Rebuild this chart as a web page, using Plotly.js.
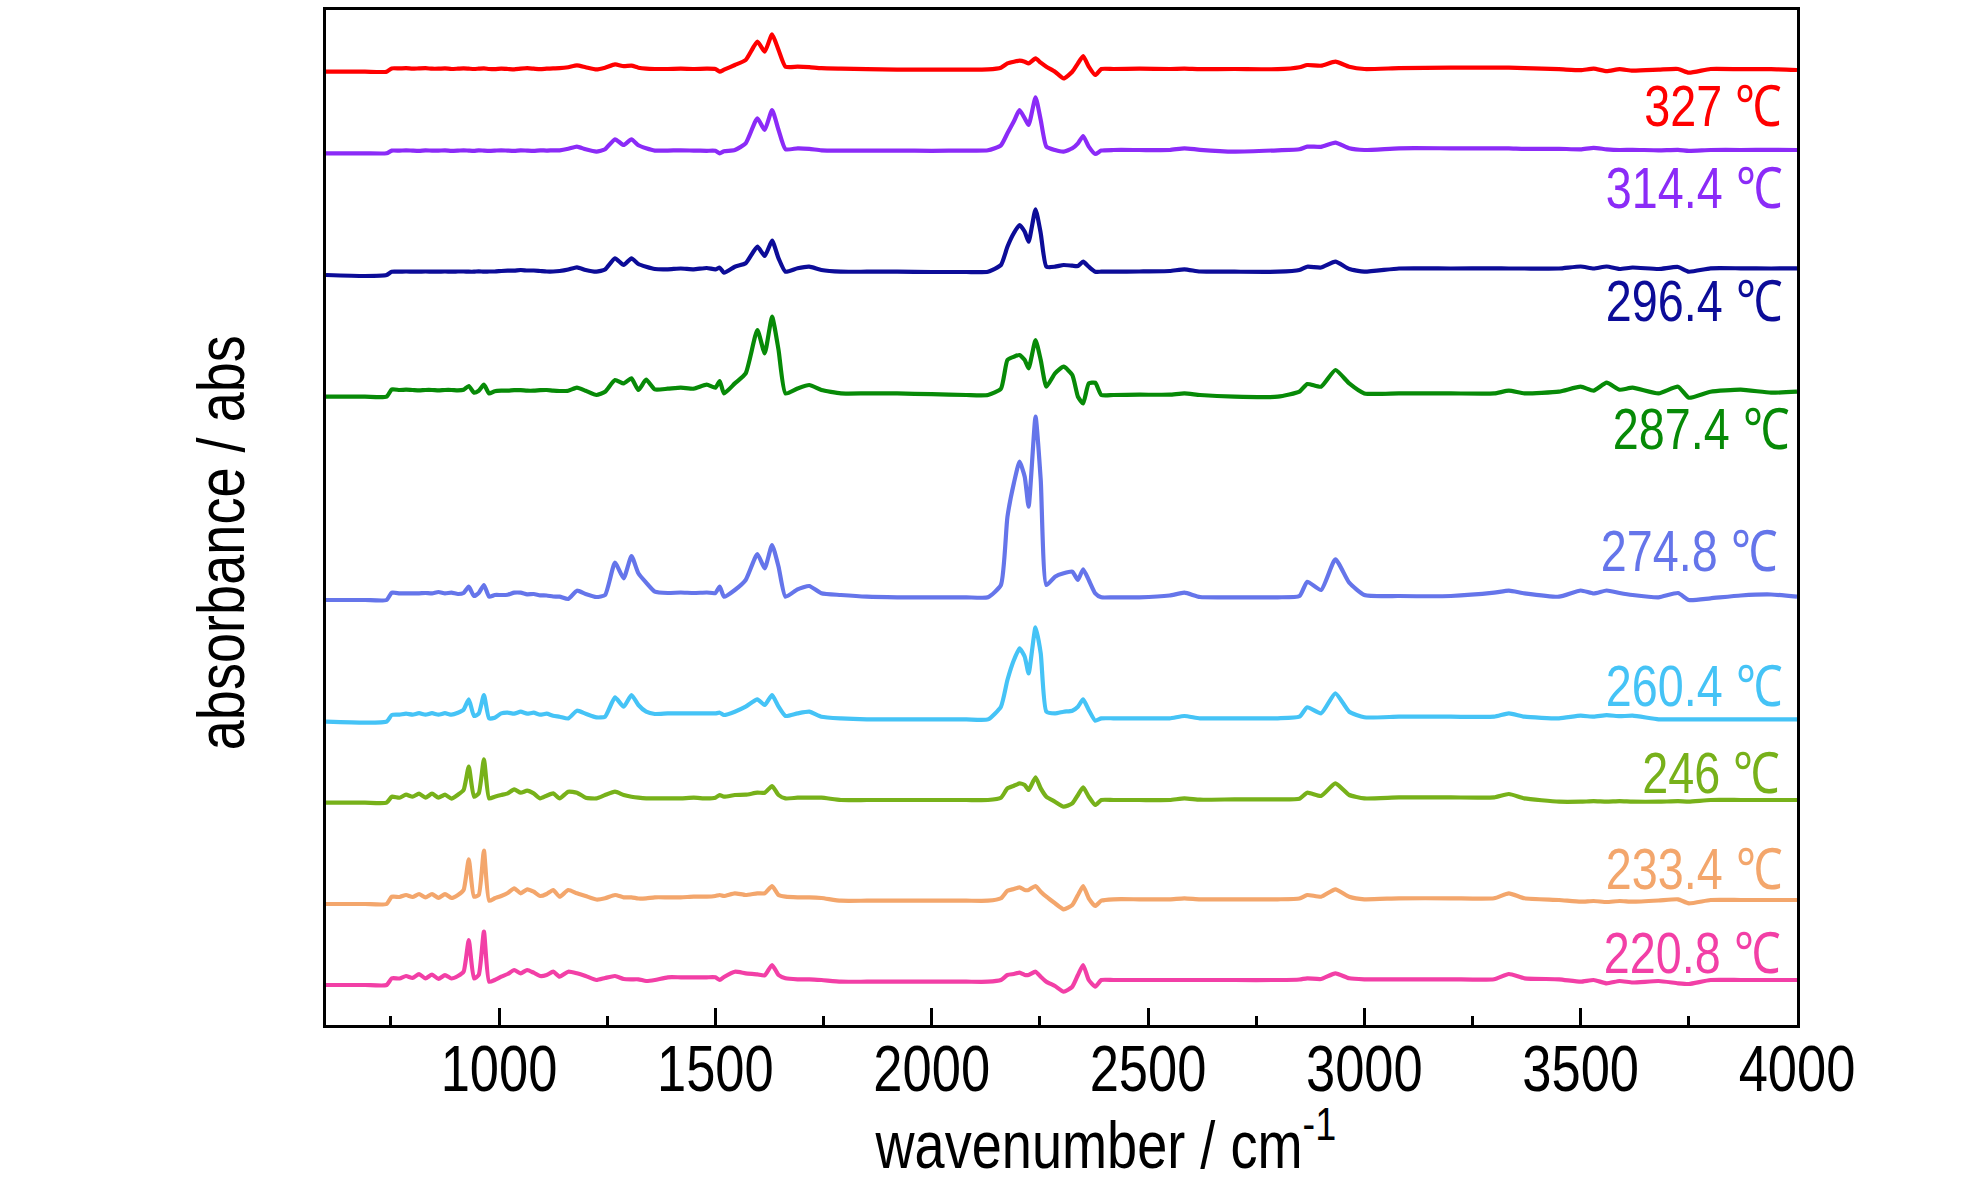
<!DOCTYPE html>
<html>
<head>
<meta charset="utf-8">
<script src="https://cdn.plot.ly/plotly-3.0.1.min.js"></script>
<style>
  html, body { margin: 0; padding: 0; background: #fff; }
  #chart { width: 1984px; height: 1181px; }
</style>
</head>
<body>
<div id="chart"></div>
<script>
// shared wavenumber grid, cm-1
var wavenumber = [
  600, 690, 740, 752, 770, 785, 800, 815, 830, 845,
  860, 875, 890, 905, 918, 930, 942, 953, 965, 977,
  990, 1005, 1020, 1035, 1050, 1065, 1080, 1095, 1110, 1125,
  1140, 1160, 1180, 1200, 1225, 1245, 1268, 1288, 1306, 1322,
  1340, 1360, 1390, 1420, 1450, 1480, 1500, 1510, 1520, 1545,
  1570, 1597, 1614, 1631, 1646, 1662, 1690, 1717, 1745, 1790,
  1850, 1920, 2000, 2080, 2130, 2160, 2175, 2190, 2203, 2215,
  2224, 2240, 2252, 2265, 2285, 2305, 2325, 2338, 2350, 2363,
  2378, 2392, 2420, 2480, 2550, 2584, 2620, 2700, 2800, 2850,
  2868, 2900, 2933, 2965, 3000, 3080, 3200, 3300, 3334, 3370,
  3450, 3500, 3530, 3560, 3590, 3620, 3680, 3725, 3750, 3800,
  3870, 3940, 4000
];

// absorbance above each spectrum's own baseline (arb. units)
var abs327 = [
  0, 0, 0, 3.3, 3.3, 3.5, 3, 3.3, 3.5, 3,
  3, 3.3, 2.7, 3, 3.3, 3, 2.7, 3, 3.3, 2.7,
  2.5, 3, 2.7, 2.3, 3, 3.5, 3, 2.5, 3, 3.3,
  3.5, 4.5, 6.3, 4.5, 2.3, 4, 7.3, 5.5, 6, 4,
  3, 2.7, 2.7, 3, 2.7, 3, 2.7, 0, 2, 6.7,
  11.7, 30, 20, 37.3, 21.7, 5, 5, 4.5, 3.5, 3,
  2.5, 2, 2, 2, 2.3, 4, 8.3, 10, 11, 10,
  8.3, 13.3, 9, 5, 0, -6.7, 0, 8.3, 15.7, 5,
  -3.3, 2.7, 2.7, 3, 2.7, 3, 2.5, 2.7, 2.5, 4.5,
  6.7, 6, 10, 5, 2.7, 3.5, 4, 4, 4, 3.5,
  2.5, 1.5, 3, 0.5, 2.5, 1, 2, 2.7, -1, 2.7,
  2.5, 2.5, 1.7
];
var abs314 = [
  0, 0, 0, 2.7, 2.7, 3, 2.7, 2.5, 3, 2.7,
  2.7, 3, 2.5, 2.7, 3, 2.7, 2.5, 3, 2.7, 2.5,
  2.7, 3, 2.7, 2.5, 3, 2.7, 2.5, 3, 2.7, 3,
  3, 4.5, 6.7, 4, 1.7, 4, 14, 8.3, 14, 8,
  5, 2.7, 2.7, 3, 2.7, 2.5, 2.5, 0, 2, 3.3,
  10, 35, 23.3, 43.3, 23.3, 4, 5, 4.5, 3, 2.7,
  2.7, 2.7, 2.5, 2.7, 3, 8, 20, 32, 43.3, 35,
  28.3, 56, 33.3, 6.7, 3.3, 1.7, 5, 10, 17.3, 6.7,
  -0.7, 2.7, 3.3, 3.3, 3.3, 5, 3.5, 1.7, 3, 4,
  6.7, 6.5, 10.7, 5, 3.3, 5, 5, 5, 5, 4.5,
  4.5, 4, 5.5, 4, 3.3, 3.5, 3, 3.5, 2.5, 3.3,
  3.3, 3.5, 3.3
];
var abs296 = [
  0, -1, 0, 3.3, 3.3, 3.5, 3.3, 3.3, 3.5, 3.3,
  3.3, 3.5, 3.3, 3.5, 3.5, 3.3, 3.3, 3.7, 3.3, 3.5,
  3.5, 4, 4.3, 4.3, 5, 4.5, 4.5, 4, 3.5, 3.5,
  4, 5.5, 7.7, 5, 3.3, 5.5, 16.7, 10, 16.7, 11,
  8.3, 6, 5.7, 6.5, 5.7, 7, 5.7, 7.3, 2.3, 8.3,
  11.7, 28.3, 19, 34.3, 16.7, 3.3, 6.7, 8.3, 5, 3.3,
  3.3, 3.3, 3, 3, 3.3, 10, 28.3, 42, 50, 43.3,
  33.3, 65.7, 41.7, 8.3, 8.3, 10, 9.3, 9, 13.3, 8.3,
  3.3, 3.3, 3.3, 3.5, 4, 5.7, 3.5, 3.3, 3.3, 5,
  8.3, 7.5, 13.3, 6, 3.3, 6.5, 6.5, 6.7, 6.5, 6.5,
  6.5, 8.5, 6.5, 8.5, 6, 7.5, 6, 8, 3.3, 6.7,
  6.7, 6.5, 6.7
];
var abs287 = [
  0, 0, 0, 7.3, 6.7, 7, 6.7, 6.3, 6.7, 6.7,
  6.3, 6.7, 6.7, 6.3, 7, 10.7, 4, 6, 12, 3.3,
  5.5, 6, 6, 6.5, 6.5, 6, 6, 6.5, 6.7, 6,
  5.7, 6, 9, 6, 1.7, 5, 16.7, 13.3, 18.3, 6.7,
  17, 7.3, 8, 9, 8, 12, 9, 15.7, 3.3, 13.3,
  23.3, 66.7, 43.3, 80, 46.7, 3.3, 8.3, 11.7, 6.7, 3.3,
  3.3, 3.3, 2.5, 1.7, 1.7, 8, 36.7, 40, 41.7, 36.7,
  28.3, 56.7, 36.7, 10, 23.3, 30, 21.7, 0, -6.7, 13.3,
  14, 1.7, 1.7, 2, 2, 3.3, 1.7, 0, 0, 5,
  12.7, 10, 26.7, 13.3, 3.3, 3.3, 3.3, 3.3, 6, 3.3,
  5, 10, 6, 14, 7, 9, 3.3, 10, -1, 5,
  7, 4, 5
];
var abs274 = [
  0, 0, 0, 7.3, 6.7, 6.7, 6.7, 6.7, 7, 6.7,
  8, 6.7, 7.3, 6, 7, 13.3, 4, 7, 15, 3.3,
  5, 5, 5.3, 7.3, 7.3, 5.7, 6, 4.7, 4.5, 3.5,
  3.3, 1, 9.3, 6, 3, 5, 37.3, 21.7, 44, 26.7,
  17.3, 8.3, 7, 7.5, 7, 7.5, 7, 13.3, 3.3, 10,
  20, 46, 31.7, 55, 33.3, 3.3, 10.7, 14, 6.7, 5,
  3.3, 2.7, 2.7, 2.7, 2.7, 15, 83, 117, 138.3, 123.3,
  93.3, 183.3, 120, 15, 23.3, 26.7, 28.3, 20, 30.7, 20,
  6.7, 2.7, 2.7, 2.7, 4.5, 7.3, 3, 2.7, 2.7, 4,
  18.3, 10, 40.7, 17.3, 5, 4, 4, 7.3, 9.3, 6.7,
  3.3, 9.5, 6.5, 9.5, 7, 5, 2.7, 7, 0, 1.7,
  4.5, 5.5, 3.3
];
var abs260 = [
  0, -1, 0, 6.7, 7, 8, 7, 8.5, 7, 8.5,
  7, 8.5, 7, 9, 12, 22.3, 5.7, 8, 26.7, 3.3,
  4, 8.3, 9, 8, 10, 8, 9, 7, 8, 6,
  5, 3.3, 11, 8, 4.3, 5, 24.3, 15, 26.7, 16.7,
  10, 7.7, 8.3, 8.3, 8.3, 8.3, 8.3, 9, 6.7, 10,
  15, 22.3, 16.7, 26.7, 15, 5.7, 8.3, 10, 5, 3.3,
  2.3, 2.3, 2.3, 2.3, 2.3, 15, 41.7, 61.7, 73.3, 65,
  48.3, 94.3, 68.3, 10, 8.3, 10, 11, 15, 22.3, 11.7,
  1, 3.3, 3.4, 3.4, 3.4, 5.7, 3.4, 3.4, 3.4, 5,
  14.4, 8.4, 28.4, 10, 4.4, 5, 5, 5, 8.4, 5,
  3.4, 6, 5, 6.5, 5.5, 6, 2.4, 2.4, 2.4, 2.4,
  2.4, 2.4, 2.4
];
var abs246 = [
  0, 0, 0, 6, 5, 8, 6, 9, 5, 9,
  5, 8, 4, 8, 12.7, 36, 6, 9.3, 43.3, 4.3,
  6, 7.7, 9.3, 13.3, 10, 12, 9.3, 4.3, 7, 9.3,
  4.3, 11, 10, 5, 4.3, 7.7, 11, 7.7, 6, 5,
  4.3, 4.3, 4.3, 4.3, 5, 4.3, 5, 7.7, 6, 7.7,
  8, 10, 10, 16.7, 7.7, 4.3, 5, 5, 5, 2.7,
  2.7, 2.7, 2.7, 2.7, 2.7, 5, 14.3, 17, 19.3, 17.7,
  12.7, 25.3, 14.3, 6, 1, -4, -0.7, 7.7, 15.3, 6,
  -2.3, 2.7, 2.7, 2.7, 2.7, 4.3, 3, 3.3, 3.3, 4,
  10, 6.7, 19.3, 7.7, 4.3, 5.3, 5.3, 5.3, 8.7, 4.3,
  1, 1, 1.5, 1, 1.5, 1, 1, 1.5, 1, 2.7,
  2.7, 2.7, 2.7
];
var abs233 = [
  0, 0, 0, 7.3, 7, 9, 7, 10, 6.5, 10,
  6, 10, 6, 9, 14, 44.7, 7.3, 9, 53.3, 3.3,
  5.7, 8, 11, 15.7, 10.7, 14.7, 12.3, 8, 10, 14,
  7.3, 14, 10.7, 8, 4.5, 5.7, 9, 6.7, 6.7, 5.5,
  5.7, 6.7, 6.7, 6.7, 7.3, 7.3, 8, 9, 8, 10.7,
  9, 10.7, 10.7, 18, 9, 7.3, 6.7, 6.7, 6, 3.3,
  3.3, 3.3, 3.3, 3.3, 3.3, 5.7, 13.3, 15, 16.7, 14,
  14, 18, 12.3, 7.3, 0.7, -5.3, -1, 9, 18, 5.7,
  -2, 3.3, 4.7, 4.7, 4.7, 5.7, 4.7, 4.7, 4.7, 5.5,
  9, 7.3, 14.7, 7.3, 4.7, 5.7, 5.7, 5.7, 10.7, 5.7,
  4, 2.3, 3, 2, 3, 2.3, 3.5, 4.7, 0.7, 4,
  4, 4, 4
];
var abs220 = [
  0, 0, 0, 6.7, 6.5, 9, 7, 11, 6.5, 10.5,
  6, 10, 6.5, 9, 13.3, 45, 6.7, 10, 53.3, 3.3,
  5, 8.3, 11, 15, 11.7, 15, 12.3, 9, 10, 13.3,
  8.3, 13.3, 11.7, 9, 5, 7, 9, 6, 5.7, 5.7,
  4, 5, 7.7, 7.7, 7.7, 7.7, 7.7, 5, 8, 13.3,
  11.7, 10.7, 9.7, 20, 10, 6.7, 5.7, 5.7, 5, 3.3,
  3.3, 3.3, 3.3, 3.3, 3.3, 5, 10, 11, 12.3, 10,
  10, 13.3, 8.3, 3.3, -1, -6.7, -1.7, 10, 20, 5,
  -1.7, 5, 5, 5, 5, 5, 5, 5, 5, 5.5,
  6.7, 6, 11.7, 6.7, 5.7, 5.7, 5.7, 5.7, 11, 6.7,
  5.7, 3.3, 5, 1.7, 4, 2.5, 4, 1.7, 1, 5,
  5, 5, 5
];

// temperatures, top to bottom, and the stacking offset of each spectrum
var temperatures = ['327', '314.4', '296.4', '287.4', '274.8', '260.4', '246', '233.4', '220.8'];
var stackOffsets = [953.3, 871.7, 750, 628.3, 425, 303.3, 222.3, 121, 40];
var spectra = [abs327, abs314, abs296, abs287, abs274, abs260, abs246, abs233, abs220];

var colors = ['#FF0000', '#8B2BF7', '#0C0C98', '#078A07', '#6575EA', '#45C3F6', '#77B11A', '#F3A66C', '#F23FA6'];
var labelX = [0.991, 0.991, 0.991, 0.996, 0.988, 0.991, 0.990, 0.991, 0.990];
var labelY = [919, 837, 724, 596, 474, 339, 252, 156, 72];

// no narrow font is installed: draw with Liberation Sans and squeeze it horizontally afterwards
var fontFamily = '"Liberation Sans", Arial, sans-serif';
var narrow = 0.82;

var traces = [];
var annotations = [];
for (var i = 0; i < spectra.length; i++) {
  if (spectra[i].length !== wavenumber.length) console.warn('length mismatch', temperatures[i]);
  var off = stackOffsets[i];
  traces.push({
    x: wavenumber,
    y: spectra[i].map(function (v) { return v + off; }),
    type: 'scatter',
    mode: 'lines',
    name: temperatures[i] + ' ℃',
    line: {color: colors[i], width: 4.2, shape: 'spline', smoothing: 0.5},
    hoverinfo: 'skip'
  });
  annotations.push({
    xref: 'paper', yref: 'y',
    x: labelX[i], y: labelY[i],
    xanchor: 'right', yanchor: 'middle',
    text: temperatures[i] + ' ℃',
    showarrow: false,
    font: {family: fontFamily, size: 57, color: colors[i]}
  });
}

annotations.push({
  xref: 'paper', yref: 'paper',
  x: 0.53, y: -0.113,
  xanchor: 'center', yanchor: 'middle',
  text: 'wavenumber / cm<sup>-1</sup>',
  showarrow: false,
  font: {family: fontFamily, size: 66, color: '#000'}
});
annotations.push({
  xref: 'paper', yref: 'paper',
  x: -0.0714, y: 0.475,
  xanchor: 'center', yanchor: 'middle',
  textangle: -90,
  text: 'absorbance / abs',
  showarrow: false,
  font: {family: fontFamily, size: 66, color: '#000'}
});

var layout = {
  width: 1984,
  height: 1181,
  margin: {l: 326, r: 187, t: 10, b: 156},
  paper_bgcolor: '#fff',
  plot_bgcolor: '#fff',
  showlegend: false,
  xaxis: {
    range: [600, 4000],
    tickmode: 'linear', tick0: 1000, dtick: 500,
    ticks: 'inside', ticklen: 17, tickwidth: 3, tickcolor: '#000',
    ticklabelstandoff: -14,
    minor: {tick0: 750, dtick: 500, ticks: 'inside', ticklen: 9, tickwidth: 3, tickcolor: '#000'},
    tickfont: {family: fontFamily, size: 64, color: '#000'},
    showline: true, linewidth: 3, linecolor: '#000', mirror: true,
    showgrid: false, zeroline: false
  },
  yaxis: {
    range: [0, 1015],
    ticks: '', showticklabels: false,
    showline: true, linewidth: 3, linecolor: '#000', mirror: true,
    showgrid: false, zeroline: false
  },
  annotations: annotations
};

function condense(nodes, alignRight) {
  nodes.forEach(function (t) {
    var b = t.getBBox();
    var ax = alignRight ? b.x + b.width : b.x + b.width / 2;
    var prev = t.getAttribute('transform') || '';
    t.setAttribute('transform', prev + ' translate(' + ax + ',0) scale(' + narrow + ',1) translate(' + (-ax) + ',0)');
  });
}

Plotly.newPlot('chart', traces, layout, {displayModeBar: false, staticPlot: true}).then(function (gd) {
  condense(gd.querySelectorAll('.xtick text'), false);
  gd.querySelectorAll('.annotation').forEach(function (g) {
    var idx = +g.getAttribute('data-index');
    condense(g.querySelectorAll('text'), idx < temperatures.length);
  });
});
</script>
</body>
</html>
